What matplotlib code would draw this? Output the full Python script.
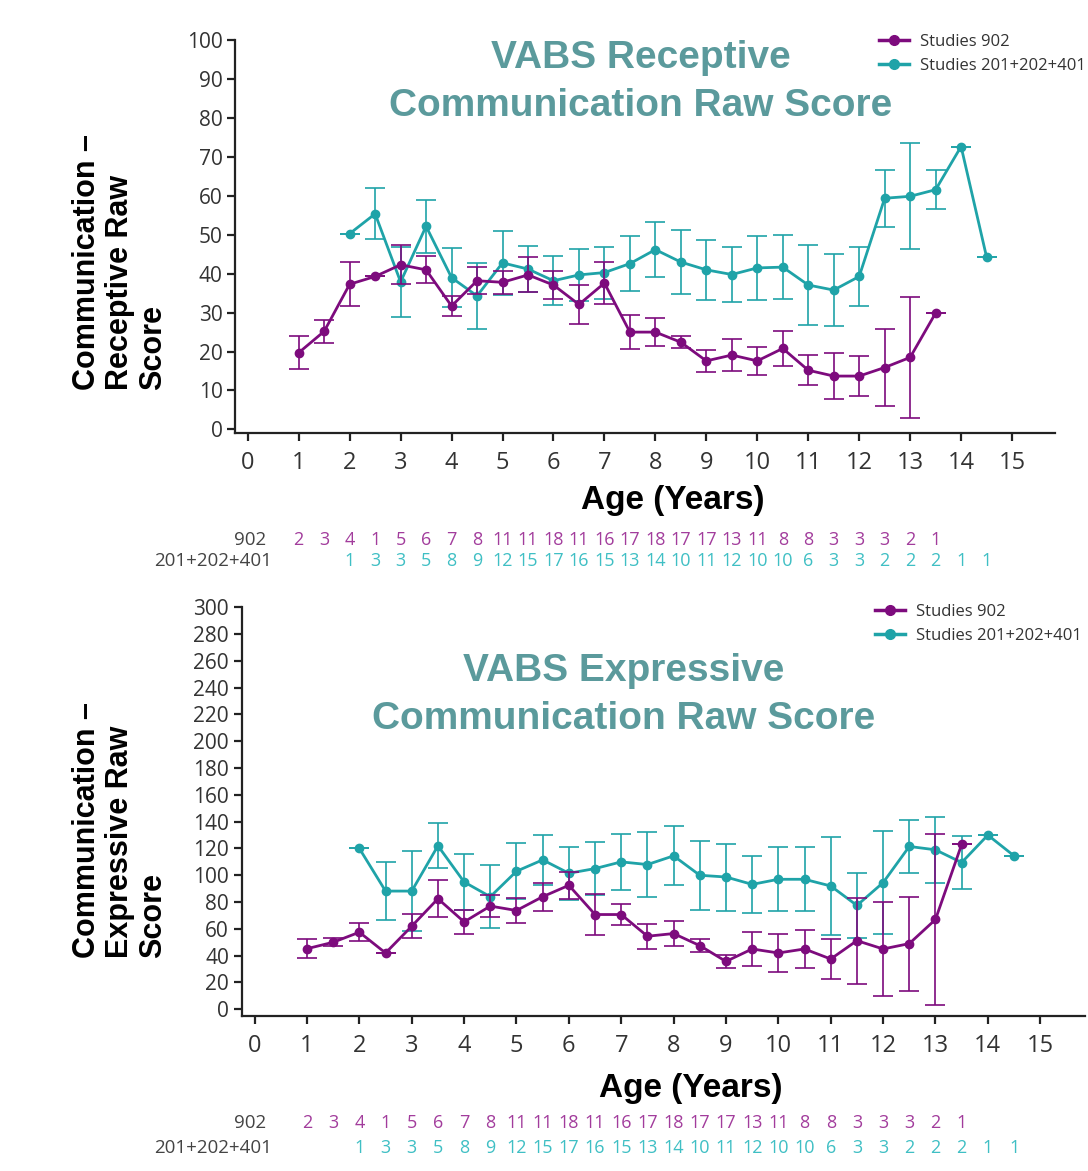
import numpy as np
import matplotlib
matplotlib.use("Agg")
import matplotlib.pyplot as plt
import matplotlib.transforms as mtransforms
from matplotlib.lines import Line2D

# ---- data ----
ages_902 = np.arange(1.0, 14.0, 0.5)      # 1 .. 13.5
ages_201 = np.arange(2.0, 15.0, 0.5)      # 2 .. 14.5

n_902 = [2, 3, 4, 1, 5, 6, 7, 8, 11, 11, 18, 11, 16, 17, 18, 17, 17, 13, 11, 8, 8, 3, 3, 3, 2, 1]
n_201 = [1, 3, 3, 5, 8, 9, 12, 15, 17, 16, 15, 13, 14, 10, 11, 12, 10, 10, 6, 3, 3, 2, 2, 2, 1, 1]

rec_902 = [19.7, 25.2, 37.3, 39.3, 42.3, 41.0, 31.7, 38.2, 37.8, 39.7, 37.1, 32.1, 37.6,
           25.0, 25.0, 22.4, 17.6, 19.1, 17.6, 20.8, 15.2, 13.7, 13.7, 15.9, 18.5, 29.9]
rec_902_err = [4.2, 2.9, 5.6, 0, 5, 3.5, 2.6, 3.5, 3, 4.5, 3.7, 5, 5.3,
               4.3, 3.6, 1.5, 2.8, 4.1, 3.7, 4.5, 3.8, 5.9, 5.2, 10, 15.6, 0]
rec_201 = [50.3, 55.4, 37.9, 52.2, 39.0, 34.3, 42.8, 41.2, 38.2, 39.7, 40.3, 42.6, 46.2,
           43.0, 41.0, 39.8, 41.5, 41.7, 37.1, 35.8, 39.3, 59.4, 59.9, 61.6, 72.7, 44.3]
rec_201_err = [0, 6.6, 9, 6.8, 7.5, 8.4, 8.2, 5.9, 6.3, 6.6, 6.7, 7, 7,
               8.2, 7.7, 7, 8.2, 8.2, 10.4, 9.2, 7.6, 7.3, 13.6, 5, 0, 0]

exp_902 = [45.2, 50, 57.5, 42, 62, 82.5, 65.2, 77, 73.7, 84, 92.5, 70.7, 70.7,
           54.5, 56.5, 47.5, 35.7, 45, 42, 45, 37.5, 51.2, 45, 49, 67, 123]
exp_902_err = [6.9, 3, 6.6, 0, 9, 13.7, 9.2, 8.4, 9.4, 10.6, 10, 15, 8,
               9.4, 9, 5, 5, 13, 14, 14, 15, 32, 35, 35, 64, 0]
exp_201 = [120, 88.2, 88.2, 122, 95, 84, 103, 111.5, 101.5, 105, 110, 108, 114.5,
           100, 98.7, 93.2, 97, 97, 92, 77.5, 94.5, 121.5, 119, 109.5, 130, 114.5]
exp_201_err = [0, 21.9, 30, 16.9, 20.6, 23.4, 21, 18.4, 19.8, 19.6, 20.8, 24, 22,
               25.7, 25, 21.5, 24, 24, 36.5, 24.4, 38.7, 19.7, 24.4, 20, 0, 0]

xtick_labels = [str(i) for i in range(16)]
legend_labels = ["Studies 902", "Studies 201+202+401"]

PURPLE = "#7d0b7d"
TEAL = "#1fa3a8"
PURPLE_TXT = "#a23c9c"
TEAL_TXT = "#3fbfc4"
TITLE_C = "#5b9a9c"

plt.rcParams["font.family"] = ["Open Sans", "DejaVu Sans"]
BOLD = ["Liberation Sans", "DejaVu Sans"]

fig = plt.figure(figsize=(10.88, 11.71), dpi=100)


def panel(rect, y902, e902, y201, e201, ylim, yticks, title, ylabel,
          title_xy, ylabel_xy, xlabel_xy, nrow_y, leg_xy):
    ax = fig.add_axes(rect)
    ax.errorbar(ages_201, y201, yerr=e201, color=TEAL, lw=2, marker="o", ms=6,
                elinewidth=1.2, capsize=7, capthick=1.2, zorder=3)
    ax.errorbar(ages_902, y902, yerr=e902, color=PURPLE, lw=2, marker="o", ms=6,
                elinewidth=1.2, capsize=7, capthick=1.2, zorder=4)
    ax.set_xlim(-0.25, 15.85)
    ax.set_ylim(*ylim)
    ax.set_xticks(range(16))
    ax.set_xticklabels(xtick_labels, fontsize=17, color="#333333")
    ax.set_yticks(yticks)
    ax.set_yticklabels([str(v) for v in yticks], fontsize=15, color="#333333")
    for s in ("top", "right"):
        ax.spines[s].set_visible(False)
    for s in ("left", "bottom"):
        ax.spines[s].set_linewidth(1.6)
        ax.spines[s].set_color("#222222")
    ax.tick_params(axis="both", direction="out", length=6, width=1.6, color="#222222", pad=3)
    ax.tick_params(axis="x", pad=7)

    fig.text(title_xy[0], title_xy[1], title, ha="center", va="center", fontsize=28,
             fontweight="bold", color=TITLE_C, family=BOLD, linespacing=1.4)
    fig.text(ylabel_xy[0], ylabel_xy[1], ylabel, rotation=90, ha="center", va="center",
             multialignment="left", fontsize=22, fontweight="bold", family=BOLD,
             linespacing=1.15)
    fig.text(xlabel_xy[0], xlabel_xy[1], "Age (Years)", ha="center", va="center",
             fontsize=24, fontweight="bold", family=BOLD)

    # numbers at risk
    trans = mtransforms.blended_transform_factory(ax.transData, fig.transFigure)
    fig.text(0.245, nrow_y[0], "902", ha="right", va="center", fontsize=13.5, color="#444444")
    fig.text(0.25, nrow_y[1], "201+202+401", ha="right", va="center", fontsize=13.5,
             color="#444444")
    for a, n in zip(ages_902, n_902):
        ax.text(a, nrow_y[0], str(n), transform=trans, ha="center", va="center",
                fontsize=13, color=PURPLE_TXT, clip_on=False)
    for a, n in zip(ages_201, n_201):
        ax.text(a, nrow_y[1], str(n), transform=trans, ha="center", va="center",
                fontsize=13, color=TEAL_TXT, clip_on=False)

    handles = [Line2D([], [], color=PURPLE, lw=2.5, marker="o", ms=7),
               Line2D([], [], color=TEAL, lw=2.5, marker="o", ms=7)]
    fig.legend(handles, legend_labels, loc="upper left", bbox_to_anchor=leg_xy,
               frameon=False, fontsize=12, handlelength=1.8, handletextpad=0.7,
               labelspacing=0.5, borderaxespad=0, labelcolor="#333333")
    return ax


panel([0.216, 0.630, 0.754, 0.3356], rec_902, rec_902_err, rec_201, rec_201_err,
      (-1, 100), list(range(0, 101, 10)),
      "VABS Receptive\nCommunication Raw Score",
      "Communication –\nReceptive Raw\nScore",
      (641 / 1088, 1 - 82 / 1171), (120 / 1088, 1 - 262 / 1171), (673 / 1088, 1 - 500 / 1171),
      (1 - 540 / 1171, 1 - 561 / 1171), (872 / 1088, 1 - 27 / 1171))

panel([0.222, 0.1324, 0.775, 0.349], exp_902, exp_902_err, exp_201, exp_201_err,
      (-5, 300), list(range(0, 301, 20)),
      "VABS Expressive\nCommunication Raw Score",
      "Communication –\nExpressive Raw\nScore",
      (624 / 1088, 1 - 695 / 1171), (120 / 1088, 1 - 830 / 1171), (691 / 1088, 1 - 1088 / 1171),
      (1 - 1123 / 1171, 1 - 1148 / 1171), (868 / 1088, 1 - 597 / 1171))

fig.savefig("out.png", dpi=100)
